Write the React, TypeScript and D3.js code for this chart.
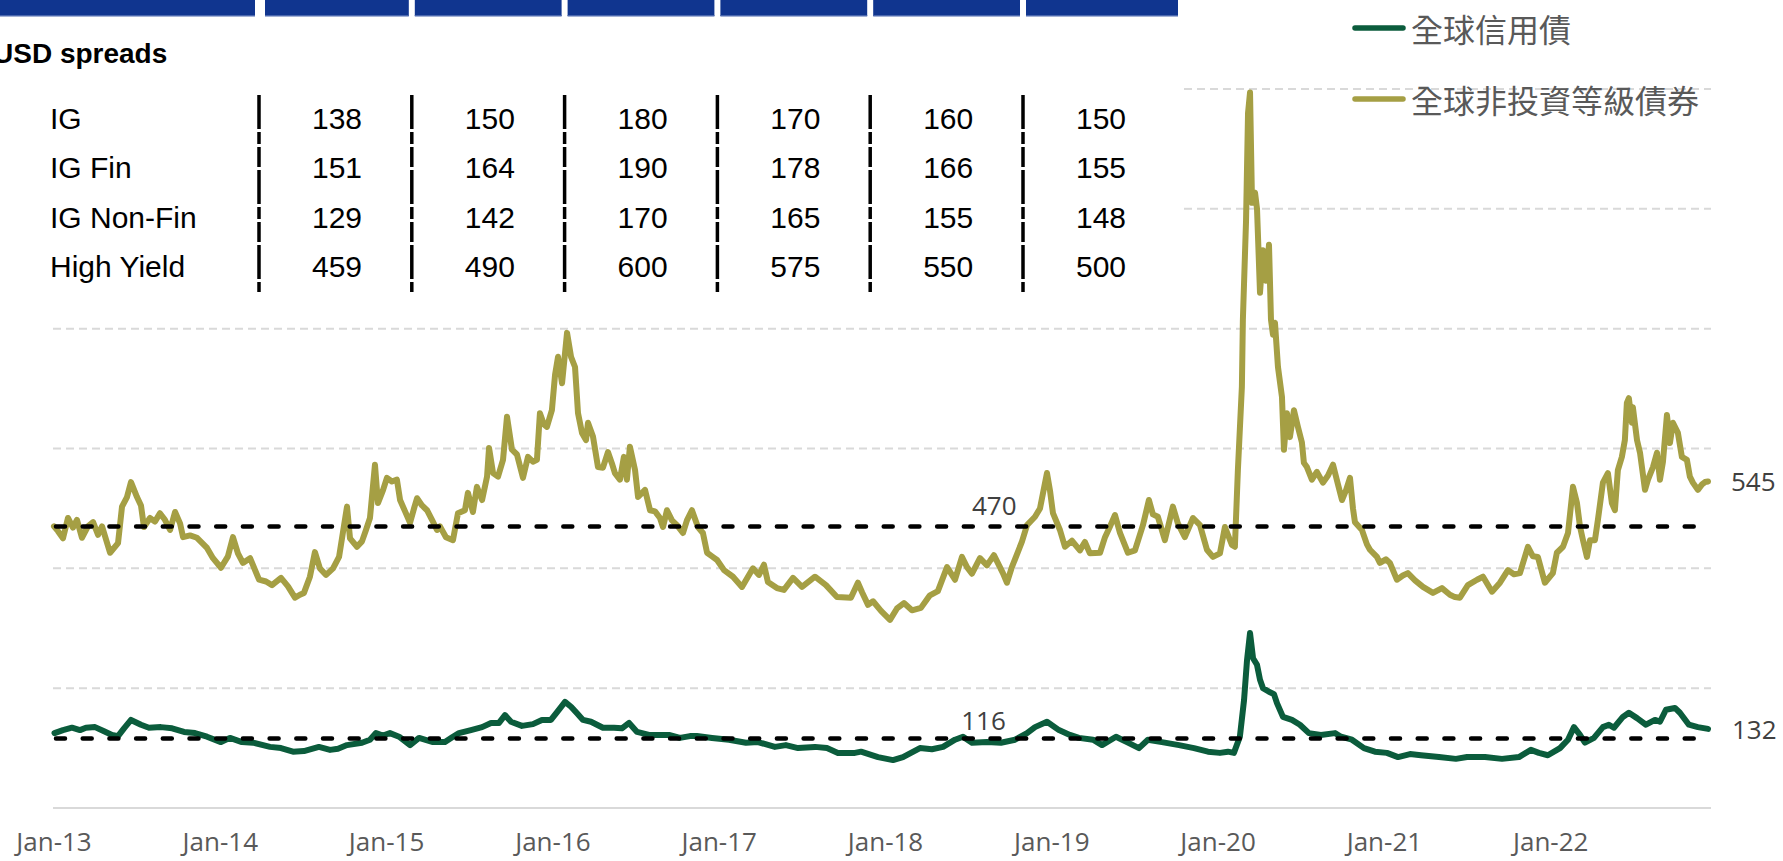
import React, { useEffect } from 'react';
import * as d3 from 'd3';

// ---------- DATA ----------
const tableTitle = 'USD spreads';
const tableRows = ['IG', 'IG Fin', 'IG Non-Fin', 'High Yield'];
const tableCol1 = [138, 151, 129, 459];
const tableCol2 = [150, 164, 142, 490];
const tableCol3 = [180, 190, 170, 600];
const tableCol4 = [170, 178, 165, 575];
const tableCol5 = [160, 166, 155, 550];
const tableCol6 = [150, 155, 148, 500];
const tableColumns = [tableCol1, tableCol2, tableCol3, tableCol4, tableCol5, tableCol6];

const legendLabels = ['全球信用債', '全球非投資等級債券'];
const tickYears = [2013, 2014, 2015, 2016, 2017, 2018, 2019, 2020, 2021, 2022];
const tickLabels = ['Jan-13', 'Jan-14', 'Jan-15', 'Jan-16', 'Jan-17', 'Jan-18', 'Jan-19', 'Jan-20', 'Jan-21', 'Jan-22'];
const gridValues = [200, 400, 600, 800, 1000, 1200];

const hyAverage = 470;
const igAverage = 116;
const hyLatest = 545;
const igLatest = 132;

// [decimal year, spread bp]
const hySeries: [number, number][] = [
  [2013.000,470],[2013.024,462],[2013.054,450],[2013.084,484],[2013.114,468],[2013.138,481],[2013.168,451],[2013.204,470],[2013.235,477],[2013.265,456],[2013.289,470],[2013.337,426],[2013.385,442],[2013.409,503],[2013.439,519],[2013.463,544],[2013.499,519],[2013.523,505],[2013.541,469],[2013.577,484],[2013.607,478],[2013.637,492],[2013.667,481],[2013.698,464],[2013.728,494],[2013.758,475],[2013.776,452],[2013.818,455],[2013.860,451],[2013.920,434],[2013.956,417],
  [2014.004,401],[2014.046,420],[2014.076,452],[2014.106,425],[2014.136,409],[2014.179,417],[2014.233,381],[2014.275,378],[2014.311,372],[2014.365,384],[2014.407,370],[2014.449,351],[2014.479,356],[2014.503,359],[2014.539,386],[2014.569,427],[2014.599,400],[2014.636,389],[2014.678,400],[2014.714,419],[2014.762,503],[2014.780,450],[2014.822,436],[2014.852,445],[2014.876,464],[2014.900,484],[2014.930,573],[2014.948,509],[2014.978,530],
  [2015.002,551],[2015.032,545],[2015.062,548],[2015.081,514],[2015.111,495],[2015.141,476],[2015.165,500],[2015.183,517],[2015.213,505],[2015.243,497],[2015.273,481],[2015.303,464],[2015.321,470],[2015.357,452],[2015.399,447],[2015.429,492],[2015.471,497],[2015.489,526],[2015.519,494],[2015.543,536],[2015.574,514],[2015.604,553],[2015.616,601],[2015.640,559],[2015.670,553],[2015.700,581],[2015.724,653],[2015.754,598],[2015.784,590],[2015.820,551],[2015.850,586],[2015.880,578],[2015.904,581],[2015.922,659],[2015.946,640],[2015.964,636],[2015.994,664],
  [2016.013,723],[2016.031,753],[2016.055,709],[2016.085,793],[2016.109,753],[2016.133,736],[2016.151,659],[2016.175,626],[2016.199,614],[2016.211,643],[2016.241,620],[2016.271,569],[2016.301,568],[2016.331,594],[2016.355,575],[2016.373,559],[2016.403,548],[2016.427,586],[2016.445,548],[2016.463,603],[2016.494,564],[2016.512,519],[2016.554,531],[2016.584,497],[2016.614,495],[2016.644,484],[2016.662,469],[2016.686,497],[2016.716,480],[2016.746,472],[2016.782,459],[2016.806,480],[2016.836,497],[2016.872,469],[2016.902,459],[2016.927,426],[2016.957,420],[2016.987,414],
  [2017.029,397],[2017.083,386],[2017.137,369],[2017.203,400],[2017.239,389],[2017.269,406],[2017.293,377],[2017.347,367],[2017.389,364],[2017.444,384],[2017.498,369],[2017.576,386],[2017.642,372],[2017.708,352],[2017.792,351],[2017.834,376],[2017.859,360],[2017.895,339],[2017.925,345],[2017.973,329],
  [2018.027,314],[2018.069,333],[2018.111,342],[2018.159,330],[2018.213,334],[2018.267,355],[2018.315,362],[2018.370,402],[2018.418,381],[2018.460,419],[2018.490,402],[2018.520,391],[2018.568,417],[2018.610,405],[2018.652,422],[2018.706,392],[2018.730,376],[2018.760,402],[2018.797,428],[2018.821,445],[2018.851,472],[2018.899,486],[2018.929,500],[2018.971,559],[2018.989,530],
  [2019.007,492],[2019.049,464],[2019.079,436],[2019.121,446],[2019.169,430],[2019.199,444],[2019.229,425],[2019.290,426],[2019.320,452],[2019.350,470],[2019.380,489],[2019.410,459],[2019.458,426],[2019.500,430],[2019.548,472],[2019.584,514],[2019.608,490],[2019.638,486],[2019.680,447],[2019.728,503],[2019.758,475],[2019.800,452],[2019.849,484],[2019.891,472],[2019.933,431],[2019.969,419],
  [2020.011,425],[2020.041,469],[2020.083,439],[2020.101,436],[2020.119,564],[2020.143,703],[2020.149,815],[2020.168,980],[2020.180,1160],[2020.192,1194],[2020.204,1010],[2020.222,1027],[2020.234,1000],[2020.252,860],[2020.270,931],[2020.288,880],[2020.306,940],[2020.318,815],[2020.330,790],[2020.342,810],[2020.360,736],[2020.384,686],[2020.396,598],[2020.414,659],[2020.432,619],[2020.456,664],[2020.480,636],[2020.504,610],[2020.516,576],[2020.534,569],[2020.564,548],[2020.594,561],[2020.630,543],[2020.661,555],[2020.691,573],[2020.721,540],[2020.745,514],[2020.769,530],[2020.793,551],[2020.811,500],[2020.823,477],[2020.865,464],[2020.895,440],[2020.913,431],[2020.955,419],[2020.973,409],
  [2021.009,415],[2021.033,409],[2021.075,381],[2021.111,388],[2021.141,392],[2021.184,380],[2021.232,369],[2021.292,359],[2021.346,367],[2021.394,356],[2021.424,352],[2021.454,351],[2021.502,372],[2021.557,381],[2021.593,386],[2021.647,361],[2021.695,376],[2021.743,397],[2021.779,390],[2021.815,392],[2021.863,436],[2021.893,420],[2021.923,419],[2021.965,376],
  [2022.013,392],[2022.037,426],[2022.074,436],[2022.104,459],[2022.134,536],[2022.158,509],[2022.176,470],[2022.194,447],[2022.218,419],[2022.236,447],[2022.266,447],[2022.284,481],[2022.314,543],[2022.344,559],[2022.368,509],[2022.386,497],[2022.404,564],[2022.428,586],[2022.446,614],[2022.458,676],[2022.470,684],[2022.488,643],[2022.494,669],[2022.519,614],[2022.537,593],[2022.567,531],[2022.585,548],[2022.615,569],[2022.639,593],[2022.657,548],[2022.675,578],[2022.699,656],[2022.717,609],[2022.735,643],[2022.765,626],[2022.789,586],[2022.819,581],[2022.837,553],[2022.855,543],[2022.885,531],[2022.910,540],[2022.928,544],[2022.946,545],
];

const igSeries: [number, number][] = [
  [2013.003,125],[2013.054,130],[2013.108,134],[2013.156,130],[2013.192,134],[2013.247,135],[2013.301,128],[2013.349,122],[2013.385,120],[2013.421,133],[2013.463,147],[2013.523,139],[2013.571,134],[2013.643,135],[2013.710,133],[2013.782,127],[2013.848,125],[2013.920,119],
  [2014.004,110],[2014.058,117],[2014.130,110],[2014.197,109],[2014.299,102],[2014.365,100],[2014.437,94],[2014.503,95],[2014.593,102],[2014.660,97],[2014.708,99],[2014.762,105],[2014.852,109],[2014.900,114],[2014.936,125],[2014.978,121],
  [2015.020,125],[2015.075,119],[2015.141,105],[2015.195,117],[2015.279,110],[2015.351,110],[2015.399,119],[2015.435,125],[2015.507,130],[2015.574,135],[2015.628,142],[2015.676,142],[2015.712,155],[2015.748,144],[2015.814,137],[2015.880,140],[2015.934,147],[2015.988,147],
  [2016.025,160],[2016.073,177],[2016.109,169],[2016.145,158],[2016.181,147],[2016.229,144],[2016.301,134],[2016.367,134],[2016.415,133],[2016.458,142],[2016.506,127],[2016.578,122],[2016.644,122],[2016.698,122],[2016.764,117],[2016.824,120],[2016.866,120],[2016.957,117],
  [2017.059,114],[2017.161,109],[2017.233,110],[2017.335,102],[2017.401,105],[2017.474,100],[2017.576,102],[2017.648,100],[2017.714,92],[2017.816,92],[2017.853,94],[2017.955,85],
  [2018.045,80],[2018.105,85],[2018.207,100],[2018.279,98],[2018.346,102],[2018.418,114],[2018.466,119],[2018.520,109],[2018.610,110],[2018.694,109],[2018.779,114],[2018.851,125],[2018.899,135],[2018.971,144],
  [2019.043,130],[2019.109,122],[2019.163,117],[2019.248,114],[2019.302,105],[2019.386,119],[2019.458,109],[2019.524,100],[2019.578,114],[2019.662,110],[2019.765,105],[2019.855,100],[2019.939,94],
  [2020.011,92],[2020.059,94],[2020.095,92],[2020.131,119],[2020.156,180],[2020.174,247],[2020.192,292],[2020.210,250],[2020.234,239],[2020.252,214],[2020.270,200],[2020.306,194],[2020.336,190],[2020.354,175],[2020.390,152],[2020.444,147],[2020.492,139],[2020.546,125],[2020.618,122],[2020.703,125],[2020.739,119],[2020.805,114],[2020.877,100],[2020.943,94],
  [2021.015,92],[2021.082,85],[2021.154,90],[2021.220,88],[2021.328,85],[2021.430,82],[2021.497,85],[2021.605,85],[2021.707,82],[2021.809,85],[2021.881,97],[2021.929,92],[2021.983,88],
  [2022.056,100],[2022.104,114],[2022.140,135],[2022.176,122],[2022.206,109],[2022.260,117],[2022.314,135],[2022.350,139],[2022.380,134],[2022.434,152],[2022.470,159],[2022.519,150],[2022.573,139],[2022.627,147],[2022.657,144],[2022.693,164],[2022.747,167],[2022.777,159],[2022.831,139],[2022.885,135],[2022.946,132],
];

// ---------- COMPONENT ----------
const HY_COLOR = '#A59F44';
const IG_COLOR = '#0B5C3C';
const LATIN = "'Open Sans', 'Noto Sans', sans-serif";
const CJK = "'Noto Sans CJK TC', 'Noto Sans CJK SC', sans-serif";
const TABLE_FONT = "'Liberation Sans', Arial, sans-serif";

export default function App() {
  useEffect(() => {
    document.body.style.margin = '0';
    document.body.style.overflow = 'hidden';
  }, []);

  const W = 1783;
  const H = 861;
  const x = d3.scaleLinear().domain([2013, 2022]).range([54, 54 + 9 * 166.3]);
  const y = d3.scaleLinear().domain([0, 1200]).range([808, 89]);
  const plotLeft = 53;
  const plotRight = 1711;
  const line = d3.line<[number, number]>().x(d => x(d[0])).y(d => y(d[1]));

  // table layout
  const colX = (i: number) => 337 + i * 152.8;
  const sepX = (i: number) => 259 + i * 152.8;
  const rowY = (i: number) => 129 + i * 49.4;
  const barRanges: [number, number][] = [[0, 255]];
  for (let i = 0; i < 6; i++) {
    const a = sepX(i) + (i === 0 ? 6 : 3);
    const b = i < 5 ? sepX(i + 1) - 3 : 1178;
    barRanges.push([a, b]);
  }

  return (
    <svg width={W} height={H} style={{ position: 'absolute', left: 0, top: 0, background: '#fff' }}>
      <rect x={0} y={0} width={W} height={H} fill="#fff" />
      {/* gridlines */}
      {gridValues.map(v => (
        <line key={v} x1={plotLeft} x2={plotRight} y1={y(v)} y2={y(v)}
          stroke="#D9D9D9" strokeWidth={2} strokeDasharray="8 5" />
      ))}
      <line x1={plotLeft} x2={plotRight} y1={y(0)} y2={y(0)} stroke="#D9D9D9" strokeWidth={2} />

      {/* pasted table overlay */}
      <rect x={0} y={0} width={1182} height={305} fill="#fff" />
      {barRanges.map((r, i) => (
        <g key={i}>
          <rect x={r[0]} y={0} width={r[1] - r[0]} height={16} fill="#10358F" />
          <rect x={r[0]} y={15} width={r[1] - r[0]} height={1.5} fill="#4A67AE" />
        </g>
      ))}
      <text x={-7} y={63} fontFamily={TABLE_FONT} fontWeight="bold" fontSize={28} fill="#000">{tableTitle}</text>
      {tableRows.map((r, i) => (
        <text key={r} x={50} y={rowY(i)} fontFamily={TABLE_FONT} fontSize={30} fill="#000">{r}</text>
      ))}
      {tableColumns.map((col, ci) => (
        <g key={ci}>
          {col.map((v, ri) => (
            <text key={ri} x={colX(ci)} y={rowY(ri)} textAnchor="middle" fontFamily={TABLE_FONT} fontSize={30} fill="#000">{v}</text>
          ))}
          <line x1={sepX(ci)} x2={sepX(ci)} y1={95} y2={292} stroke="#000" strokeWidth={3.5} strokeDasharray="34 3 12 3 20 3" />
        </g>
      ))}

      {/* series */}
      <path d={line(hySeries) || ''} fill="none" stroke={HY_COLOR} strokeWidth={6} strokeLinejoin="round" strokeLinecap="round" />
      <path d={line(igSeries) || ''} fill="none" stroke={IG_COLOR} strokeWidth={6} strokeLinejoin="round" strokeLinecap="round" />

      {/* average lines */}
      {[hyAverage, igAverage].map(v => (
        <line key={v} x1={plotLeft + 3} x2={plotRight - 2} y1={y(v)} y2={y(v)}
          stroke="#000" strokeWidth={4.5} strokeDasharray="9 17.7" strokeLinecap="round" />
      ))}
      <text x={x(2018.52)} y={y(hyAverage) - 11} fontFamily={LATIN} fontSize={26} fill="#404040">{hyAverage}</text>
      <text x={x(2018.455)} y={y(igAverage) - 8} fontFamily={LATIN} fontSize={26} fill="#404040">{igAverage}</text>
      <text x={1731} y={y(hyLatest) + 10} fontFamily={LATIN} fontSize={26} fill="#404040">{hyLatest}</text>
      <text x={1732} y={y(igLatest) + 10} fontFamily={LATIN} fontSize={26} fill="#404040">{igLatest}</text>

      {/* x tick labels */}
      {tickYears.map((t, i) => (
        <text key={t} x={x(t)} y={851} textAnchor="middle" fontFamily={LATIN} fontSize={26} fill="#595959">{tickLabels[i]}</text>
      ))}

      {/* legend */}
      {legendLabels.map((l, i) => (
        <g key={l}>
          <line x1={1355} x2={1403} y1={28 + i * 71} y2={28 + i * 71} stroke={i === 0 ? IG_COLOR : HY_COLOR} strokeWidth={5.5} strokeLinecap="round" />
          <text x={1411} y={28 + i * 71} dominantBaseline="central" fontFamily={CJK} fontSize={32} fill="#595959">{l}</text>
        </g>
      ))}
    </svg>
  );
}
